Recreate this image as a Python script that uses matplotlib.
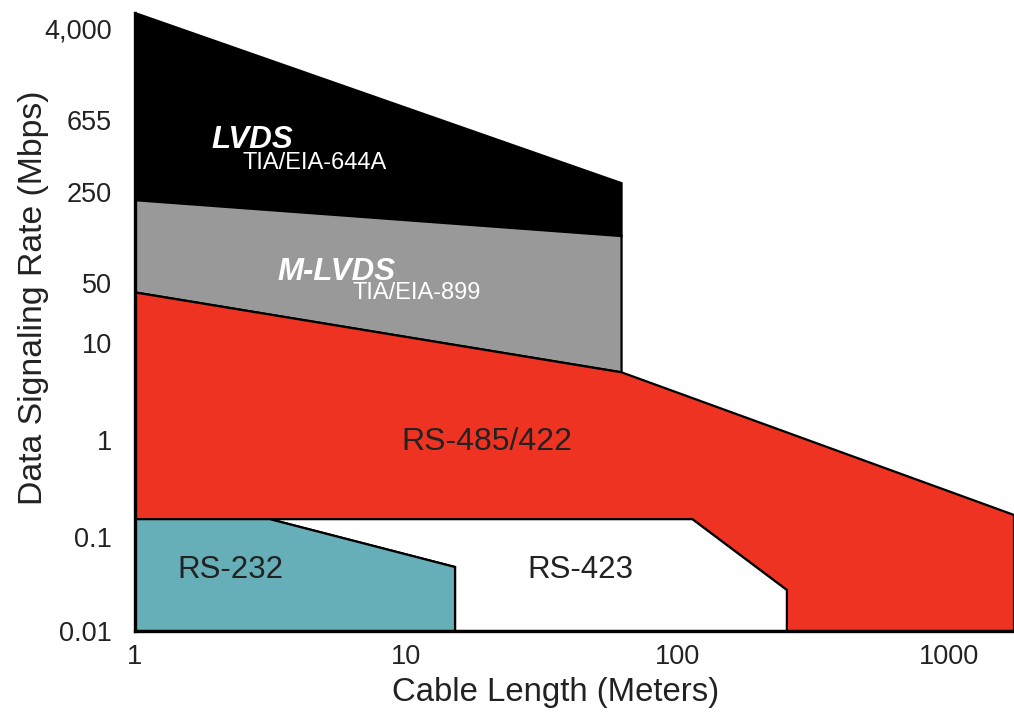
#!/usr/bin/env python3
"""
Interface standards chart: data signaling rate vs cable length
(LVDS, M-LVDS, RS-485/422, RS-423, RS-232).
"""

import numpy as np
import matplotlib
matplotlib.use("Agg")
import matplotlib.pyplot as plt

plt.rcParams['font.family'] = ['Liberation Sans', 'DejaVu Sans']

# printed y axis: uneven ticks, spacing
ytick_vals = [0.01, 0.1, 1, 10, 50, 250, 655, 4000]
ytick_labels = ['0.01', '0.1', '1', '10', '50', '250', '655', '4,000']
ytick_spacing = [0, 94, 191, 288, 348, 439, 511, 603]

xtick_vals = [1, 10, 100, 1000]
xtick_labels = ['1', '10', '100', '1000']

# region outlines (cable length m, rate Mbps)
lvds_len = [1, 62, 62, 1]
lvds_rate = [5400, 282, 115, 217]

mlvds_len = [1, 62, 62, 1]
mlvds_rate = [217, 115, 5.0, 39]

rs485_len = [1, 62, 1730, 1730, 252, 252, 113, 1]
rs485_rate = [39, 5.0, 0.169, 0.01, 0.01, 0.0273, 0.153, 0.153]

rs423_len = [3.14, 113, 252, 252, 15.1, 15.1]
rs423_rate = [0.153, 0.153, 0.0273, 0.01, 0.01, 0.048]

rs232_len = [1, 3.14, 15.1, 15.1, 1]
rs232_rate = [0.153, 0.153, 0.048, 0.01, 0.01]

# piecewise log scale matching the printed axis
logs = np.log10(ytick_vals)
sp = np.array(ytick_spacing, dtype=float)
lo_slope = (sp[1] - sp[0]) / (logs[1] - logs[0])
hi_slope = (sp[-1] - sp[-2]) / (logs[-1] - logs[-2])
logs_ext = np.concatenate([[logs[0] - 3], logs, [logs[-1] + 3]])
sp_ext = np.concatenate([[sp[0] - 3 * lo_slope], sp, [sp[-1] + 3 * hi_slope]])


def forward(v):
    v = np.maximum(np.asarray(v, dtype=float), 1e-12)
    return np.interp(np.log10(v), logs_ext, sp_ext)


def inverse(p):
    return 10 ** np.interp(np.asarray(p, dtype=float), sp_ext, logs_ext)


fig = plt.figure(figsize=(10.14, 7.17), dpi=100)
ax = fig.add_axes([0.1331, 0.1199, 0.8669, 0.8620])

ax.set_xscale('log')
ax.set_yscale('function', functions=(forward, inverse))
ax.set_xlim(1, 1730)
ax.set_ylim(0.01, 5400)

edge = dict(edgecolor='black', linewidth=1.6, joinstyle='miter')
ax.fill(lvds_len, lvds_rate, facecolor='#000000', **edge)
ax.fill(mlvds_len, mlvds_rate, facecolor='#999999', **edge)
ax.fill(rs485_len, rs485_rate, facecolor='#ee3322', **edge)
ax.fill(rs423_len, rs423_rate, facecolor='#ffffff', **edge)
ax.fill(rs232_len, rs232_rate, facecolor='#66afb8', **edge)

# region labels
ax.text(1.92, 501, 'LVDS', color='white', fontsize=22.5, fontweight='bold',
        fontstyle='italic', ha='left', va='center')
ax.text(2.48, 368, 'TIA/EIA-644A', color='white', fontsize=17,
        ha='left', va='center')
ax.text(3.36, 60.8, 'M-LVDS', color='white', fontsize=22.5, fontweight='bold',
        fontstyle='italic', ha='left', va='center')
ax.text(6.35, 38.3, 'TIA/EIA-899', color='white', fontsize=17,
        ha='left', va='center')
ax.text(9.62, 0.953, 'RS-485/422', color='#222222', fontsize=23,
        ha='left', va='center')
ax.text(27.8, 0.0446, 'RS-423', color='#222222', fontsize=22.5,
        ha='left', va='center')
ax.text(1.43, 0.0446, 'RS-232', color='#222222', fontsize=22.5,
        ha='left', va='center')

ax.set_xticks(xtick_vals, labels=xtick_labels)
ax.set_yticks(ytick_vals, labels=ytick_labels)
ax.xaxis.set_minor_locator(matplotlib.ticker.NullLocator())
ax.yaxis.set_minor_locator(matplotlib.ticker.NullLocator())
ax.tick_params(axis='both', length=0, labelsize=19.5, colors='#222222')
ax.tick_params(axis='y', pad=16.5)
ax.tick_params(axis='x', pad=9)

for side in ['top', 'right']:
    ax.spines[side].set_visible(False)
for side in ['left', 'bottom']:
    ax.spines[side].set_linewidth(2.4)
    ax.spines[side].set_color('black')

ax.set_xlabel('Cable Length (Meters)', fontsize=23.7, color='#222222')
ax.set_ylabel('Data Signaling Rate (Mbps)', fontsize=24.3, color='#222222')
ax.xaxis.set_label_coords(0.478, -0.075)
ax.yaxis.set_label_coords(-0.098, 0.540)

fig.savefig('out.png', dpi=100)
